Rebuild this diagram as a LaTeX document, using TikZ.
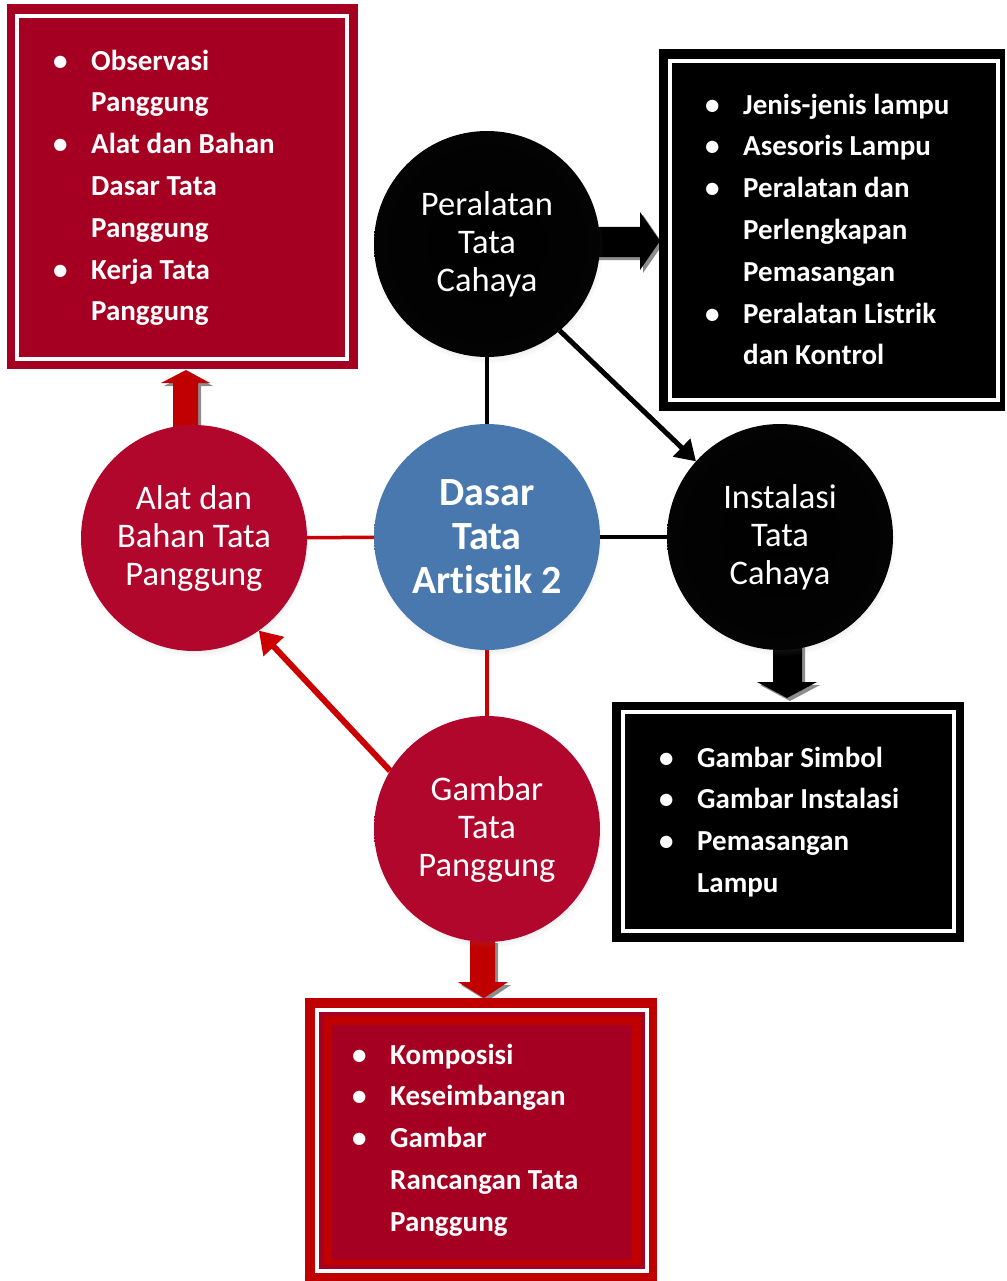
\documentclass[tikz,border=0pt]{standalone}
\usepackage{fontspec}
\setmainfont{Carlito}[Ligatures={NoCommon}]
\usetikzlibrary{arrows.meta,shadows,backgrounds}
\definecolor{dred}{HTML}{A50021}
\definecolor{bred}{HTML}{C00000}
\definecolor{lred}{HTML}{CC0000}
\definecolor{arrgray}{HTML}{8C8C8C}
\definecolor{rcA}{HTML}{B2072D}
\definecolor{rcB}{HTML}{A00528}
\definecolor{rcC}{HTML}{72031E}
\definecolor{bcA}{HTML}{4878AE}
\definecolor{bcB}{HTML}{3F6CA1}
\definecolor{bcC}{HTML}{2C517E}
\definecolor{kcA}{HTML}{000000}
\definecolor{kcB}{HTML}{050505}
\definecolor{kcC}{HTML}{333333}
\pgfdeclareradialshading{redball}{\pgfpoint{0bp}{0bp}}{color(0bp)=(rcA); color(30bp)=(rcA); color(46bp)=(rcB); color(49bp)=(rcC); color(50bp)=(rcC)}
\pgfdeclareradialshading{blueball}{\pgfpoint{0bp}{0bp}}{color(0bp)=(bcA); color(30bp)=(bcA); color(46bp)=(bcB); color(49bp)=(bcC); color(50bp)=(bcC)}
\pgfdeclareradialshading{blkball}{\pgfpoint{0bp}{0bp}}{color(0bp)=(kcA); color(44bp)=(kcB); color(49bp)=(kcC); color(50bp)=(kcC)}
\newcommand{\lbul}{\makebox[38pt][l]{\textbullet}}
\newcommand{\lind}{\hspace*{38pt}}
\begin{document}
\begin{tikzpicture}[x=1pt,y=-1pt,
  circ/.style={circle, minimum size=226pt, inner sep=0pt, outer sep=0pt, text=white, align=center,
    font=\fontsize{34.5}{38}\selectfont,
    circular drop shadow={shadow xshift=1pt, shadow yshift=-4pt, opacity=0.3, shadow scale=1.02}},
  redcirc/.style={circ, shading=redball},
  blkcirc/.style={circ, shading=blkball},
  bluecirc/.style={circ, shading=blueball, font=\bfseries\fontsize{40}{44}\selectfont},
  listtext/.style={anchor=base west, align=left, text=white, inner sep=0pt,
    font=\bfseries\fontsize{29}{41.8}\selectfont},
  blkline/.style={line width=4pt, black},
  redline/.style={line width=3.5pt, lred},
  blkarrow/.style={line width=5pt, black, -{Triangle[length=20pt,width=24pt]}},
  redarrow/.style={line width=6pt, lred, -{Triangle[length=22pt,width=27pt]}},
  shadowfill/.style={fill=arrgray}
]
\useasboundingbox (0,0) rectangle (1006,1281);

% boxes
\fill[dred] (7,4) rectangle (358,369);
\draw[white, line width=4pt] (17.3,15.8) rectangle (347,359);

\fill[black] (659,49) rectangle (1005,411);
\draw[white, line width=4pt] (670,61) rectangle (998,399.5);

\fill[black] (612,702) rectangle (964,942);
\draw[white, line width=4pt] (623,712) rectangle (953.5,930.5);

\fill[bred] (305,998) rectangle (657,1281);
\draw[white, line width=4pt] (317,1010) rectangle (647,1270.5);
\fill[dred] (319,1012) rectangle (645,1268.5);
\fill[bred] (323,1016) rectangle (641,1264.5);
\fill[dred] (332,1025) rectangle (632,1260);

% list texts (anchor = baseline of last line)
\node[listtext] (tl) at (53,320.8) {\lbul Observasi\\\lind Panggung\\\lbul Alat dan Bahan\\\lind Dasar Tata\\\lind Panggung\\\lbul Kerja Tata\\\lind Panggung};
\node[listtext] (tr) at (705,364.8) {\lbul Jenis-jenis lampu\\\lbul Asesoris Lampu\\\lbul Peralatan dan\\\lind Perlengkapan\\\lind Pemasangan\\\lbul Peralatan Listrik\\\lind dan Kontrol};
\node[listtext] (mr) at (659,892.4) {\lbul Gambar Simbol\\\lbul Gambar Instalasi\\\lbul Pemasangan\\\lind Lampu};
\node[listtext] (bt) at (352,1231.2) {\lbul Komposisi\\\lbul Keseimbangan\\\lbul Gambar\\\lind Rancangan Tata\\\lind Panggung};

% circles
\node[blkcirc] (per) at (487,244) {Peralatan\\Tata\\Cahaya};
\node[bluecirc] (das) at (487,537) {Dasar\\Tata\\Artistik 2};
\node[blkcirc] (ins) at (780,537) {Instalasi\\Tata\\Cahaya};
\node[redcirc] (alat) at (194,538) {Alat dan\\Bahan Tata\\Panggung};
\node[redcirc] (gam) at (487,829) {Gambar\\Tata\\Panggung};

% block arrows (behind circles)
\begin{pgfonlayer}{background}
\fill[shadowfill] (593,230) -- (643,230) -- (643,215) -- (663,244) -- (643,273) -- (643,260) -- (593,260) -- cycle;
\fill[black] (590,227) -- (640,227) -- (640,212) -- (660,241) -- (640,270) -- (640,257) -- (590,257) -- cycle;

\fill[shadowfill] (776,643) -- (776,685) -- (760,685) -- (790,701) -- (820,685) -- (805,685) -- (805,643) -- cycle;
\fill[black] (773,640) -- (773,682) -- (757,682) -- (787,698) -- (817,682) -- (802,682) -- (802,640) -- cycle;

\fill[shadowfill] (176,428) -- (176,386) -- (164,386) -- (189,373) -- (213,386) -- (201,386) -- (201,428) -- cycle;
\fill[bred] (173,428) -- (173,383) -- (161,383) -- (186,370) -- (210,383) -- (198,383) -- (198,428) -- cycle;

\fill[shadowfill] (473,943) -- (473,985) -- (461,985) -- (487,1001) -- (511,985) -- (498,985) -- (498,943) -- cycle;
\fill[bred] (470,940) -- (470,982) -- (458,982) -- (484,998) -- (508,982) -- (495,982) -- (495,940) -- cycle;
\end{pgfonlayer}

% connectors
\draw[blkline] (per) -- (das);
\draw[blkline] (das) -- (ins);
\draw[redline] (alat) -- (das);
\draw[redline] (das) -- (gam);
\draw[blkarrow] (per.-50) -- (ins.138);
\draw[redarrow] (gam.149) -- (alat.305);
\end{tikzpicture}
\end{document}
